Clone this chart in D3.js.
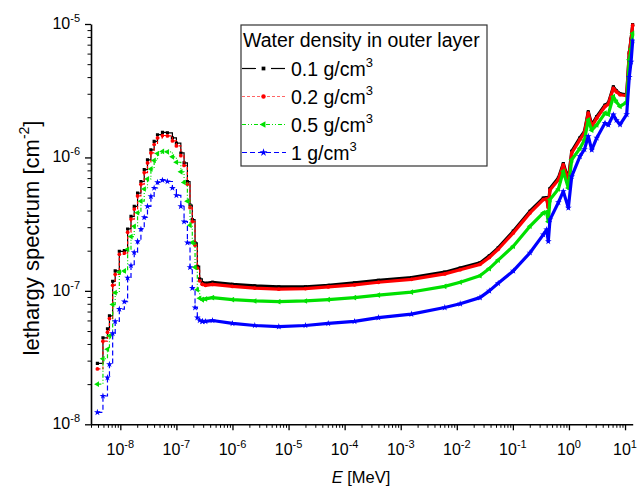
<!DOCTYPE html>
<html>
<head>
<meta charset="utf-8">
<script src="https://cdn.jsdelivr.net/npm/d3@7"></script>
<style>
  body { margin: 0; background: #fff; }
  svg { display: block; font-family: "Liberation Sans", Arial, sans-serif; }
</style>
</head>
<body>
<svg id="chart" width="638" height="486"></svg>
<script>
// thermal histogram bins (left edges, MeV)
const thermalE = [3.9e-9, 4.9e-9, 5.9e-9, 6.4e-9, 7.3e-9, 8.1e-9, 9.6e-9, 1.18e-8, 1.35e-8, 1.55e-8,
  1.77e-8, 2.03e-8, 2.33e-8, 2.67e-8, 3.05e-8, 3.51e-8, 4.01e-8, 4.6e-8, 5.64e-8, 6.92e-8,
  8.49e-8, 1.0e-7, 1.2e-7, 1.37e-7, 1.57e-7, 1.75e-7, 1.92e-7, 2.15e-7, 2.36e-7, 2.6e-7, 2.9e-7];

const thermal01 = [2.86e-8, 4.45e-8, 5.2e-8, 6.5e-8, 1.18e-7, 1.41e-7, 1.98e-7, 2.0e-7, 2.91e-7, 3.62e-7,
  4.3e-7, 5.4e-7, 6.6e-7, 8.1e-7, 9.6e-7, 1.14e-6, 1.32e-6, 1.48e-6, 1.54e-6, 1.53e-6,
  1.40e-6, 1.28e-6, 1.08e-6, 9.1e-7, 6.6e-7, 4.4e-7, 3.42e-7, 2.29e-7, 1.53e-7, 1.23e-7, 1.15e-7];
const thermal02 = [2.6e-8, 4.2e-8, 4.9e-8, 6.2e-8, 1.1e-7, 1.33e-7, 1.88e-7, 1.92e-7, 2.75e-7, 3.45e-7,
  4.1e-7, 5.15e-7, 6.3e-7, 7.7e-7, 9.1e-7, 1.08e-6, 1.25e-6, 1.40e-6, 1.46e-6, 1.45e-6,
  1.33e-6, 1.22e-6, 1.03e-6, 8.7e-7, 6.3e-7, 4.2e-7, 3.3e-7, 2.2e-7, 1.48e-7, 1.19e-7, 1.12e-7];
const thermal05 = [2.0e-8, 3.1e-8, 3.65e-8, 4.6e-8, 7.9e-8, 9.7e-8, 1.38e-7, 1.41e-7, 2.05e-7, 2.55e-7,
  3.05e-7, 3.85e-7, 4.7e-7, 5.8e-7, 6.9e-7, 8.2e-7, 9.5e-7, 1.07e-6, 1.11e-6, 1.10e-6,
  1.01e-6, 9.2e-7, 7.8e-7, 6.5e-7, 4.7e-7, 3.1e-7, 2.3e-7, 1.5e-7, 1.02e-7, 8.8e-8, 8.6e-8];
const thermal1 = [1.23e-8, 1.63e-8, 2.24e-8, 2.82e-8, 4.8e-8, 5.9e-8, 7.3e-8, 8.3e-8, 1.25e-7, 1.55e-7,
  1.94e-7, 2.35e-7, 2.9e-7, 3.55e-7, 4.3e-7, 5.1e-7, 5.9e-7, 6.5e-7, 6.75e-7, 6.6e-7,
  5.9e-7, 5.2e-7, 4.3e-7, 3.3e-7, 2.3e-7, 1.5e-7, 1.05e-7, 7.5e-8, 6.3e-8, 6.0e-8, 5.9e-8];

// epithermal + fast part (MeV)
const contE = [2.9e-7, 3.3e-7, 4.4e-7, 1e-6, 2.5e-6, 6.7e-6, 2e-5, 5.1e-5, 1.5e-4, 4e-4, 1.55e-3, 6.1e-3, 0.0115,
  0.0259, 0.038, 0.0547, 0.1017, 0.202, 0.349, 0.40, 0.428, 0.459, 0.648, 0.793, 0.975, 1.12, 1.57, 1.89,
  2.21, 2.55, 3.13, 4.4, 5.03, 6.19, 7.03, 8.15, 10.7, 11.9, 12.8, 13.7];

const cont01 = [1.15e-7, 1.14e-7, 1.16e-7, 1.12e-7, 1.09e-7, 1.07e-7, 1.07e-7, 1.10e-7, 1.15e-7, 1.20e-7, 1.26e-7, 1.38e-7, 1.48e-7,
  1.62e-7, 1.83e-7, 2.1e-7, 2.8e-7, 3.95e-7, 4.95e-7, 5.0e-7, 4.3e-7, 5.85e-7, 7.0e-7, 9.0e-7, 6.8e-7, 1.11e-6, 1.4e-6, 1.57e-6,
  2.2e-6, 1.75e-6, 2.02e-6, 2.47e-6, 2.55e-6, 3.38e-6, 3.15e-6, 3.0e-6, 2.95e-6, 6.1e-6, 7.7e-6, 9.9e-6];
const cont02 = [1.12e-7, 1.10e-7, 1.12e-7, 1.08e-7, 1.05e-7, 1.03e-7, 1.04e-7, 1.07e-7, 1.11e-7, 1.16e-7, 1.22e-7, 1.34e-7, 1.44e-7,
  1.58e-7, 1.78e-7, 2.05e-7, 2.72e-7, 3.84e-7, 4.83e-7, 4.9e-7, 4.2e-7, 5.7e-7, 6.8e-7, 8.8e-7, 6.6e-7, 1.08e-6, 1.36e-6, 1.53e-6,
  2.15e-6, 1.7e-6, 1.97e-6, 2.41e-6, 2.5e-6, 3.3e-6, 3.1e-6, 2.95e-6, 2.9e-6, 6.0e-6, 7.6e-6, 9.8e-6];
const cont05 = [8.6e-8, 8.7e-8, 8.9e-8, 8.6e-8, 8.4e-8, 8.3e-8, 8.4e-8, 8.6e-8, 8.9e-8, 9.3e-8, 9.8e-8, 1.08e-7, 1.16e-7,
  1.30e-7, 1.47e-7, 1.7e-7, 2.16e-7, 3.05e-7, 3.84e-7, 3.9e-7, 3.3e-7, 4.83e-7, 5.8e-7, 7.87e-7, 5.9e-7, 9.6e-7, 1.17e-6, 1.35e-6,
  1.91e-6, 1.6e-6, 1.75e-6, 2.15e-6, 2.1e-6, 2.86e-6, 2.6e-6, 2.41e-6, 2.6e-6, 5.4e-6, 6.5e-6, 8.5e-6];
const cont1 = [5.9e-8, 5.9e-8, 6.0e-8, 5.7e-8, 5.5e-8, 5.4e-8, 5.5e-8, 5.7e-8, 5.9e-8, 6.3e-8, 6.7e-8, 7.5e-8, 8.0e-8,
  8.9e-8, 1.0e-7, 1.14e-7, 1.41e-7, 1.93e-7, 2.64e-7, 2.88e-7, 2.35e-7, 3.42e-7, 4.6e-7, 5.57e-7, 4.19e-7, 7.2e-7, 1.02e-6, 1.15e-6,
  1.44e-6, 1.14e-6, 1.4e-6, 1.81e-6, 1.75e-6, 2.09e-6, 1.9e-6, 1.76e-6, 2.1e-6, 4.0e-6, 5.2e-6, 7.5e-6];

const seriesNames = ['0.1', '0.2', '0.5', '1'];
const xMajor = [-8, -7, -6, -5, -4, -3, -2, -1, 0, 1];
const yMajor = [-8, -7, -6, -5];

const styles = [
  { color: '#000', dash: null, sym: d3.symbolSquare, size: 10, rot: 0 },
  { color: '#ff0000', dash: '3,2', sym: d3.symbolCircle, size: 11, rot: 0 },
  { color: '#00e000', dash: '4,2,1,2,1,2', sym: d3.symbolTriangle, size: 14, rot: -90 },
  { color: '#0000ff', dash: '5,3', sym: d3.symbolStar, size: 14, rot: 0 },
];
const thermal = [thermal01, thermal02, thermal05, thermal1];
const cont = [cont01, cont02, cont05, cont1];

const svg = d3.select('#chart');
const plotL = 91, plotR = 632.7, plotT = 24, plotB = 424.3;

const x = d3.scaleLog().domain([3e-9, 13.7]).range([plotL, plotR]);
const y = d3.scaleLog().domain([1e-8, 1e-5]).range([plotB, plotT]);

const plot = svg.append('g');
plot.append('defs').append('clipPath').attr('id', 'clip')
  .append('rect').attr('x', plotL).attr('y', plotT - 2).attr('width', plotR - plotL + 2).attr('height', plotB - plotT + 2);
const g = plot.append('g').attr('clip-path', 'url(#clip)');

const stepLine = d3.line().x(d => x(d[0])).y(d => y(d[1])).curve(d3.curveStepAfter);
const line = d3.line().x(d => x(d[0])).y(d => y(d[1]));

styles.forEach((s, i) => {
  const tp = thermalE.map((e, j) => [e, thermal[i][j]]);
  const cp = contE.map((e, j) => [e, cont[i][j]]);
  g.append('path').attr('d', stepLine(tp))
    .attr('fill', 'none').attr('stroke', s.color).attr('stroke-width', 1.2)
    .attr('stroke-dasharray', s.dash);
  g.append('path').attr('d', line(cp))
    .attr('fill', 'none').attr('stroke', s.color).attr('stroke-width', 3.2)
    .attr('stroke-linejoin', 'round');
  const sym = d3.symbol().type(s.sym).size(s.size);
  g.selectAll(null).data(tp.concat(cp)).enter().append('path')
    .attr('d', sym)
    .attr('transform', d => `translate(${x(d[0])},${y(d[1])}) rotate(${s.rot})`)
    .attr('fill', s.color);
});

// axes
function powLabel(sel, base, exp, anchorX, baseY, anchor) {
  const t = sel.append('text').attr('x', anchorX).attr('y', baseY)
    .attr('text-anchor', anchor).attr('fill', '#000');
  t.append('tspan').attr('font-size', 16).text(base);
  t.append('tspan').attr('font-size', 11).attr('dy', -7).text(exp);
  return t;
}

const xMinor = [];
for (let p = -9; p <= 1; p++) for (let k = 2; k <= 9; k++) {
  const v = k * Math.pow(10, p);
  if (v >= 3e-9 && v <= 13.7) xMinor.push(v);
}
const yMinor = [];
for (let p = -8; p < -5; p++) for (let k = 2; k <= 9; k++) yMinor.push(k * Math.pow(10, p));

svg.append('g').attr('transform', `translate(0,${plotB})`)
  .call(d3.axisBottom(x).tickValues(xMinor).tickSize(3.5).tickFormat('')).call(a => a.select('.domain').remove());
const xAx = svg.append('g').attr('transform', `translate(0,${plotB})`)
  .call(d3.axisBottom(x).tickValues(xMajor.map(p => Math.pow(10, p))).tickSize(6).tickSizeOuter(0).tickFormat(''));
xAx.select('.domain').attr('stroke-width', 1.6);
xAx.selectAll('.tick line').attr('stroke-width', 1.3);
xMajor.forEach(p => {
  powLabel(svg, '10', String(p), x(Math.pow(10, p)), 455, 'middle');
});

svg.append('g').attr('transform', `translate(${plotL},0)`)
  .call(d3.axisLeft(y).tickValues(yMinor).tickSize(3.5).tickFormat('')).call(a => a.select('.domain').remove());
const yAx = svg.append('g').attr('transform', `translate(${plotL},0)`)
  .call(d3.axisLeft(y).tickValues(yMajor.map(p => Math.pow(10, p))).tickSize(6).tickSizeOuter(0).tickFormat(''));
yAx.select('.domain').attr('stroke-width', 1.6);
yAx.selectAll('.tick line').attr('stroke-width', 1.3);
yMajor.forEach(p => {
  powLabel(svg, '10', String(p), 80, y(Math.pow(10, p)) + 5, 'end');
});

// axis titles
const xt = svg.append('text').attr('x', 361).attr('y', 483).attr('text-anchor', 'middle').attr('font-size', 16.5);
xt.append('tspan').attr('font-style', 'italic').text('E');
xt.append('tspan').text(' [MeV]');

const yt = svg.append('text').attr('transform', 'translate(39,238) rotate(-90)')
  .attr('text-anchor', 'middle').attr('font-size', 22);
yt.append('tspan').text('lethargy spectrum [cm');
yt.append('tspan').attr('font-size', 14).attr('dy', -10).text('-2');
yt.append('tspan').attr('dy', 10).text(']');

// legend
const lg = svg.append('g');
lg.append('rect').attr('x', 241).attr('y', 25).attr('width', 246).attr('height', 141)
  .attr('fill', '#fff').attr('stroke', '#333').attr('stroke-width', 1.2);
lg.append('text').attr('x', 243).attr('y', 47).attr('font-size', 19.5).text('Water density in outer layer');
styles.forEach((s, i) => {
  const cy = 68.5 + i * 28;
  if (i === 0) {
    [[242, 256], [271, 285]].forEach(([a, b]) => lg.append('line')
      .attr('x1', a).attr('x2', b).attr('y1', cy).attr('y2', cy).attr('stroke', s.color).attr('stroke-width', 1.2));
  } else {
    lg.append('line').attr('x1', 242).attr('x2', 286).attr('y1', cy).attr('y2', cy)
      .attr('stroke', s.color).attr('stroke-width', 1.2).attr('stroke-dasharray', s.dash).attr('opacity', i === 1 ? 0.6 : 1);
  }
  lg.append('path').attr('d', d3.symbol().type(s.sym).size(s.size * 1.4))
    .attr('transform', `translate(263.5,${cy}) rotate(${s.rot})`).attr('fill', s.color);
  const t = lg.append('text').attr('x', 291).attr('y', cy + 7).attr('font-size', 19.5);
  t.append('tspan').text(seriesNames[i] + ' g/cm');
  t.append('tspan').attr('font-size', 13).attr('dy', -9).text('3');
});
</script>
</body>
</html>
